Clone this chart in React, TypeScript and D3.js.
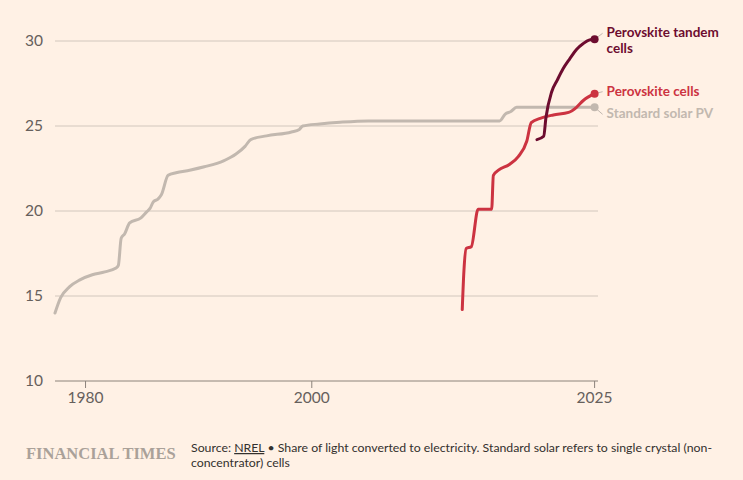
import * as d3 from "d3";

// Standard solar PV (single crystal, non-concentrator)
const solarYears = [
  1977.3, 1977.8, 1978.6, 1979.5, 1980.6, 1981.7, 1982.7, 1982.9, 1983.15, 1983.45, 1983.9,
  1984.9, 1985.4, 1985.7, 1986.0, 1986.4, 1986.7, 1987.3, 1988.0, 1989.2, 1990.5, 1992.2,
  1993.3, 1994.1, 1994.6, 1996.0, 1998.2, 1998.9, 1999.2, 2000.7, 2002.5, 2005.0, 2016.6,
  2017.1, 2017.6, 2018.1, 2025.0,
];
const solarValues = [
  14.0, 14.9, 15.55, 15.95, 16.25, 16.42, 16.65, 16.8, 18.4, 18.65, 19.3,
  19.6, 19.95, 20.15, 20.55, 20.7, 20.95, 22.1, 22.25, 22.4, 22.6, 22.95,
  23.35, 23.8, 24.2, 24.42, 24.65, 24.8, 25.0, 25.12, 25.22, 25.3, 25.3,
  25.7, 25.85, 26.1, 26.1,
];

const perovYears = [
  2013.3, 2013.45, 2013.65, 2014.1, 2014.7, 2015.9, 2016.05, 2016.5, 2017.5, 2018.25,
  2019.0, 2019.4, 2020.2, 2021.35, 2022.7, 2023.4, 2024.0, 2025.0,
];
const perovValues = [
  14.2, 16.5, 17.8, 17.9, 20.1, 20.1, 22.1, 22.4, 22.75, 23.2,
  24.1, 25.2, 25.45, 25.65, 25.8, 26.1, 26.5, 26.9,
];

const tandemYears = [2019.9, 2020.5, 2020.7, 2021.2, 2021.7, 2022.2, 2022.8, 2023.4, 2024.0, 2024.5, 2025.0];
const tandemValues = [24.2, 24.4, 25.5, 27.0, 27.7, 28.35, 28.95, 29.5, 29.85, 30.05, 30.1];

const yTicks = [10, 15, 20, 25, 30];
const xTicks = [1980, 2000, 2025];

const series = [
  { name: ["Perovskite tandem", "cells"], years: tandemYears, values: tandemValues, color: "#6d0c2f", dy: -2 },
  { name: ["Perovskite cells"], years: perovYears, values: perovValues, color: "#cc3341", dy: 2 },
  { name: ["Standard solar PV"], years: solarYears, values: solarValues, color: "#c2b8af", dy: 11 },
];

const WIDTH = 743;
const HEIGHT = 480;
const FONT = "Lato, 'Noto Sans', sans-serif";

export default function App() {
  const x = d3.scaleLinear().domain([1977.3, 2025.3]).range([55, 598]);
  const y = d3.scaleLinear().domain([10, 30]).range([381, 41]);

  const line = d3
    .line<[number, number]>()
    .x((d) => x(d[0]))
    .y((d) => y(d[1]))
    .curve(d3.curveMonotoneX);

  // grey first, then red, dark tandem on top
  const drawOrder = [series[2], series[1], series[0]];

  return (
    <div style={{ position: "absolute", left: 0, top: 0 }}>
      <svg width={WIDTH} height={HEIGHT} style={{ display: "block", fontFamily: FONT }}>
        <rect width={WIDTH} height={HEIGHT} fill="#fff1e5" />

        {yTicks.map((t) => (
          <g key={t}>
            <line
              x1={55}
              x2={598}
              y1={y(t)}
              y2={y(t)}
              stroke={t === 10 ? "#8c837b" : "#d2c7bd"}
              strokeWidth={1}
            />
            <text x={43} y={y(t)} dy="0.35em" textAnchor="end" fontSize={15.5} fill="#66605c">
              {t}
            </text>
          </g>
        ))}

        {xTicks.map((t) => (
          <g key={t}>
            <line x1={x(t)} x2={x(t)} y1={381} y2={388} stroke="#8c837b" />
            <text x={x(t)} y={398} dy="0.35em" textAnchor="middle" fontSize={15.5} fill="#66605c">
              {t}
            </text>
          </g>
        ))}

        {drawOrder.map((s) => {
          const pts = s.years.map((yr, i) => [yr, s.values[i]] as [number, number]);
          const last = pts[pts.length - 1];
          const lx = x(last[0]);
          const ly = y(last[1]);
          return (
            <g key={s.name[0]}>
              <path d={line(pts) ?? ""} fill="none" stroke={s.color} strokeWidth={3} strokeLinejoin="round" strokeLinecap="round" />
              <line x1={lx} y1={ly} x2={lx + 8} y2={ly + s.dy - 4} stroke="#c2b8af" strokeWidth={1} />
              <circle cx={lx} cy={ly} r={4} fill={s.color} />
              {s.name.map((n, i) => (
                <text key={n} x={lx + 12} y={ly + s.dy + i * 16} fontSize={13.5} fontWeight={700} fill={s.color}>
                  {n}
                </text>
              ))}
            </g>
          );
        })}

        <text
          x={26}
          y={459}
          fontFamily="'Liberation Serif', 'DejaVu Serif', serif"
          fontWeight={700}
          fontSize={16.5}
          fill="#aaa199"
        >
          FINANCIAL TIMES
        </text>
        <text x={191} y={452} fontSize={12.3} fill="#33302e">
          Source: <tspan textDecoration="underline">NREL</tspan> • Share of light converted to electricity. Standard
          solar refers to single crystal (non-
        </text>
        <text x={191} y={467} fontSize={12.3} fill="#33302e">
          concentrator) cells
        </text>
      </svg>
    </div>
  );
}
